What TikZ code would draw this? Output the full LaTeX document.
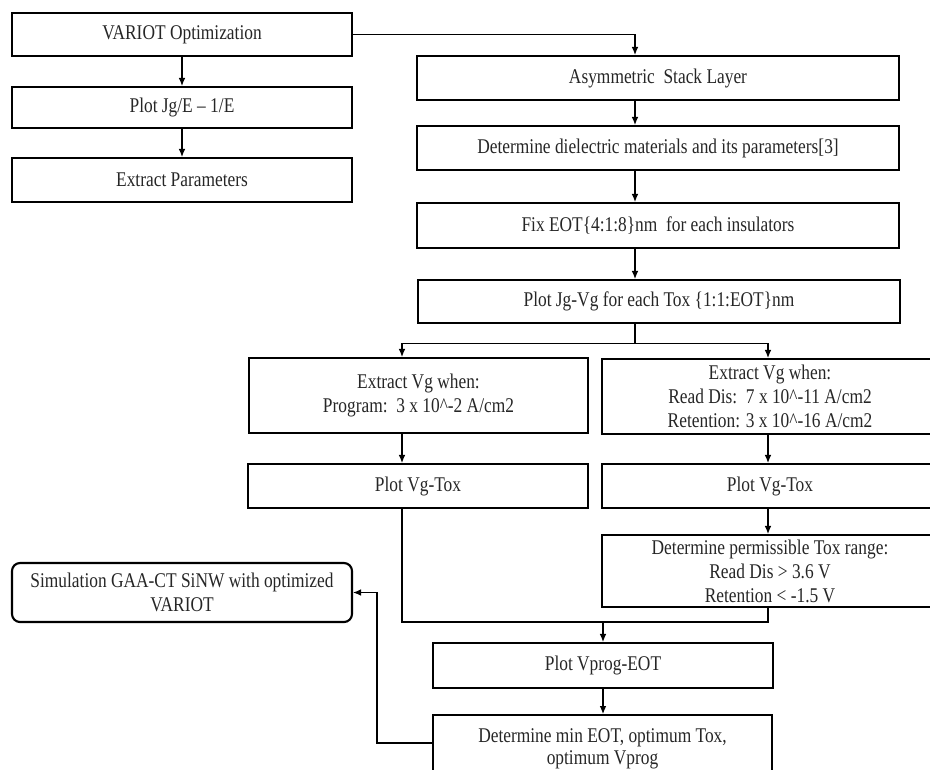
\documentclass[tikz,border=0pt]{standalone}
\usepackage{fontspec}
\setmainfont{Liberation Serif}[FakeStretch=0.83]
\usetikzlibrary{arrows.meta}
\tikzset{
  every picture/.style={
    x=0.75pt, y=-0.75pt,
    line width=0.8pt,
    >={Latex[width=5pt, length=6pt]}
  },
  box/.style={
    draw, line width=1.6pt, align=center,
    inner sep=2pt, text=black!85,
    font=\fontsize{15.7}{18}\selectfont
  },
  boxsize/.style 2 args={
    minimum width=#1*0.75pt, minimum height=#2*0.75pt
  }
}
\begin{document}
\begin{tikzpicture}
  \useasboundingbox (0,0) rectangle (930,769);
  \clip (0,0) rectangle (930,769);
  % left column
  \node[box, boxsize={340}{43}] (varopt) at (182,34.5) {VARIOT Optimization};
  \node[box, boxsize={340}{41}] (plotje) at (182,107.5) {Plot Jg/E -- 1/E};
  \node[box, boxsize={340}{44}] (extpar) at (182,180) {Extract Parameters};
  % main column
  \node[box, boxsize={482}{44}] (asym) at (658,78) {Asymmetric\ \ Stack Layer};
  \node[box, boxsize={482}{44}] (dielec) at (658,148)
    {Determine dielectric materials and its parameters[3]};
  \node[box, boxsize={482}{45}] (fixeot) at (658,225.5)
    {Fix EOT\{4:1:8\}nm\ \ for each insulators};
  \node[box, boxsize={482}{43}] (plotjgvg) at (659,301.5)
    {Plot Jg-Vg for each Tox \{1:1:EOT\}nm};
  % two branches
  \node[box, boxsize={339}{75}] (extprog) at (418.5,395.5)
    {Extract Vg when:\\Program:\ \ 3 x 10\textasciicircum-2 A/cm2};
  \node[box, boxsize={336}{75}] (extread) at (770,396.5)
    {Extract Vg when:\\Read Dis:\ \ 7 x 10\textasciicircum-11 A/cm2\\Retention: 3 x 10\textasciicircum-16 A/cm2};
  \node[box, boxsize={340}{44}] (plotvgl) at (418,486) {Plot Vg-Tox};
  \node[box, boxsize={336}{44}] (plotvgr) at (770,486) {Plot Vg-Tox};
  \node[box, boxsize={336}{72}] (permis) at (770,571)
    {Determine permissible Tox range:\\Read Dis > 3.6 V\\Retention < -1.5 V};
  % bottom
  \node[box, rounded corners=6pt, boxsize={340}{59}] (simul) at (182,592.5)
    {Simulation GAA-CT SiNW with optimized\\VARIOT};
  \node[box, boxsize={340}{45}] (vprog) at (603,665.5) {Plot Vprog-EOT};
  \node[box, minimum width=339*0.75pt, anchor=north, inner ysep=10pt,
    font=\fontsize{15.7}{16.5}\selectfont,
    text depth=40pt] (detmin) at (602.5,714)
    {Determine min EOT, optimum Tox,\\optimum Vprog};

  \coordinate (trunk) at (635,0);
  \coordinate (lx) at (402,0);
  \coordinate (rx) at (768,0);
  \coordinate (merge) at (603,622);
  \coordinate (back) at (377,743);

  \draw[->] (varopt) -- (plotje);
  \draw[->] (plotje) -- (extpar);
  \draw[->] (varopt.east) -| (trunk |- asym.north);
  \draw[->] (trunk |- asym.south) -- (trunk |- dielec.north);
  \draw[->] (trunk |- dielec.south) -- (trunk |- fixeot.north);
  \draw[->] (trunk |- fixeot.south) -- (trunk |- plotjgvg.north);
  \draw (trunk |- plotjgvg.south) -- ++(0,19) coordinate (fork);
  \draw[->] (fork) -| (lx |- extprog.north);
  \draw[->] (fork) -| (rx |- extread.north);
  \draw[->] (lx |- extprog.south) -- (lx |- plotvgl.north);
  \draw[->] (rx |- extread.south) -- (rx |- plotvgr.north);
  \draw[->] (rx |- plotvgr.south) -- (rx |- permis.north);
  \draw (lx |- plotvgl.south) |- (rx |- merge) -- (rx |- permis.south);
  \draw[->] (merge) -- (vprog.north);
  \draw[->] (vprog) -- (vprog.south |- detmin.north);
  \draw[->] (back -| detmin.west) -- (back) |- (simul.east);
\end{tikzpicture}
\end{document}
